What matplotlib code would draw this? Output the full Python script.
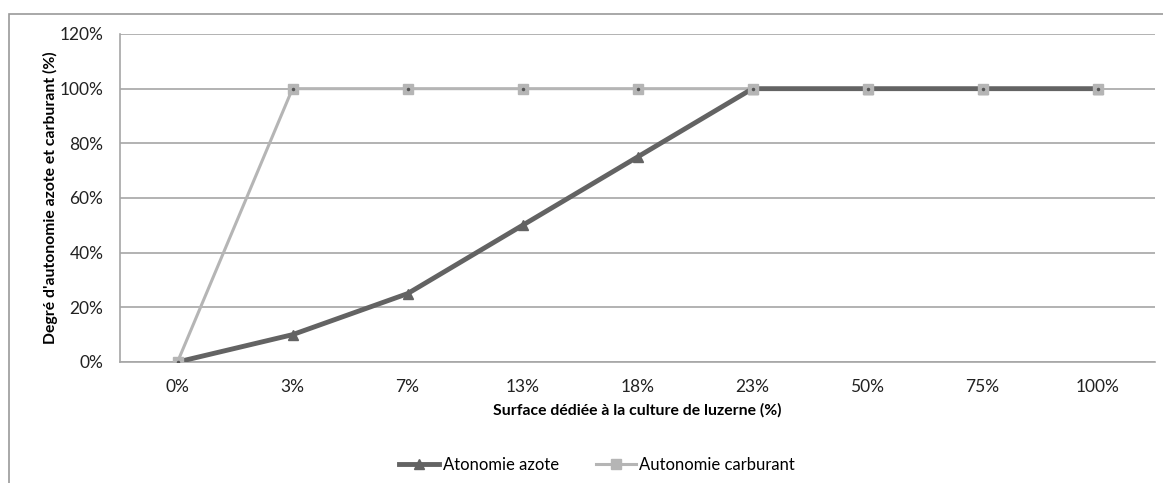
import matplotlib
matplotlib.use("Agg")
import matplotlib.pyplot as plt
from matplotlib.patches import Rectangle
from matplotlib.lines import Line2D

categories = ["0%", "3%", "7%", "13%", "18%", "23%", "50%", "75%", "100%"]
azote = [0, 10, 25, 50, 75, 100, 100, 100, 100]
carburant = [0, 100, 100, 100, 100, 100, 100, 100, 100]
yticks = [0, 20, 40, 60, 80, 100, 120]

plt.rcParams['font.family'] = ['Lato', 'DejaVu Sans']

W, H = 1163, 483
fig = plt.figure(figsize=(W/100, H/100), dpi=100)
# outer chart frame
fig.patches.append(Rectangle((9/W, -0.1), 1.2, (H-14)/H + 0.1, transform=fig.transFigure,
                             fill=False, edgecolor='#9a9a9a', linewidth=1.2))

left, right, top, bottom = 120, 1155, 34, 362
ax = fig.add_axes([left/W, 1-bottom/H, (right-left)/W, (bottom-top)/H])

x = list(range(len(categories)))
dark = '#636363'
light = '#b5b5b5'

ax.plot(x, carburant, color=light, linewidth=2.2, zorder=3)
ax.plot(x, azote, color=dark, linewidth=3.5, zorder=4)
ax.plot(x, azote, linestyle='none', marker='^', markersize=7, color=dark, zorder=5)
ax.plot(x, carburant, linestyle='none', marker='s', markersize=7.5, color=light, zorder=6)
ax.plot(x, carburant, linestyle='none', marker='o', markersize=1.5, color='#555555', zorder=7)

ax.set_xlim(-0.5, len(categories)-0.5)
ax.set_ylim(0, 120)
ax.set_yticks(yticks)
ax.set_yticklabels([f"{v}%" for v in yticks])
ax.set_xticks(x)
ax.set_xticklabels(categories)
ax.yaxis.grid(True, color='#a6a6a6', linewidth=1.2)
ax.set_axisbelow(True)
for s in ['top', 'right']:
    ax.spines[s].set_visible(False)
for s in ['left', 'bottom']:
    ax.spines[s].set_color('#a6a6a6')
    ax.spines[s].set_linewidth(1.2)
ax.tick_params(length=0, labelsize=12.5, colors='#222222')
ax.tick_params(axis='x', pad=12)
ax.tick_params(axis='y', pad=12)

ax.set_xlabel("Surface dédiée à la culture de luzerne (%)", fontsize=11.3, fontweight='bold', labelpad=6)
ax.set_ylabel("Degré d'autonomie azote et carburant (%)", fontsize=11.3, fontweight='bold', labelpad=1)

handles = [Line2D([], [], color=dark, linewidth=3.5, marker='^', markersize=7),
           Line2D([], [], color=light, linewidth=2.2, marker='s', markersize=7.5)]
fig.legend(handles, ["Atonomie azote", "Autonomie carburant"], loc='center',
           bbox_to_anchor=(597/W, 1-465/H), ncol=2, frameon=False, fontsize=12,
           handlelength=2.4, handletextpad=0.2, columnspacing=2.2)

fig.savefig("out.png", dpi=100)
